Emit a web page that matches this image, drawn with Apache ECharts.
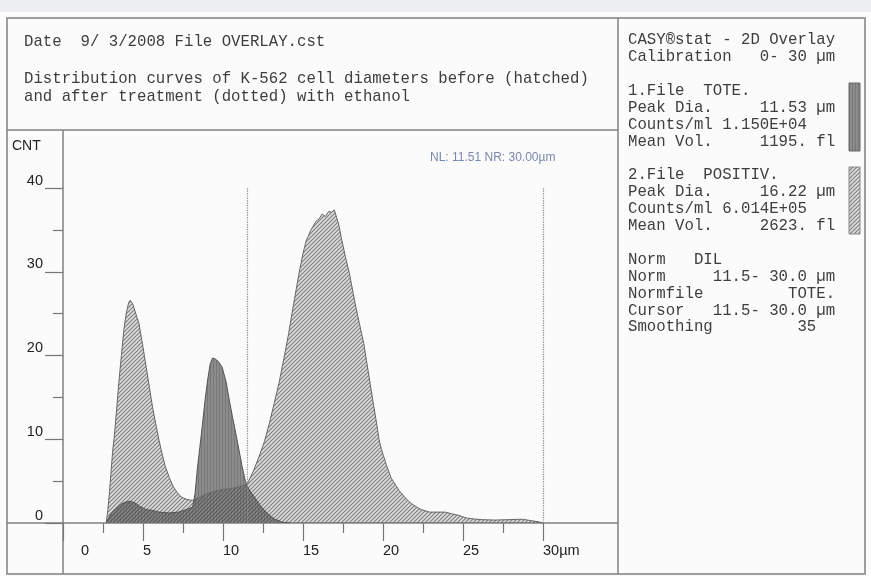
<!DOCTYPE html>
<html>
<head>
<meta charset="utf-8">
<script src="https://cdn.jsdelivr.net/npm/echarts@6/dist/echarts.min.js"></script>
<style>
html,body{margin:0;padding:0;background:#fbfbfb;}
#c{width:871px;height:576px;}
</style>
</head>
<body>
<div id="c"></div>
<script>
// ---- data (diameter in µm, counts) ----
const toteCurve = [
  [2.7,0],[2.85,0.6],[3.0,1.1],[3.3,1.7],[3.6,2.2],[3.9,2.5],[4.2,2.6],[4.5,2.4],[4.8,2.0],
  [5.2,1.6],[5.6,1.5],[6.0,1.3],[6.6,1.2],[7.2,1.3],[7.7,1.6],[8.1,1.9],[8.25,3.5],[8.4,6.5],
  [8.55,9.0],[8.7,11.5],[8.9,15.0],[9.05,17.2],[9.2,19.0],[9.35,19.7],[9.5,19.6],[9.7,19.3],
  [9.95,18.6],[10.2,16.8],[10.4,14.6],[10.6,12.6],[10.8,10.7],[11.0,8.7],[11.2,6.7],[11.35,5.4],
  [11.5,4.4],[11.7,3.8],[12.0,3.0],[12.4,1.9],[12.8,1.1],[13.2,0.5],[13.7,0.1],[14.2,0]
];
const positivCurve = [
  [2.7,0],[2.8,1.5],[2.9,3.6],[3.0,6.0],[3.1,8.5],[3.2,10.2],[3.35,13.5],[3.5,17.0],[3.65,20.0],
  [3.8,23.0],[3.95,25.0],[4.1,26.3],[4.2,26.6],[4.35,26.2],[4.5,25.3],[4.75,23.8],[5.0,21.0],
  [5.2,18.6],[5.4,16.2],[5.6,13.8],[5.8,11.8],[6.0,9.9],[6.2,8.2],[6.4,6.7],[6.65,5.4],[6.9,4.3],
  [7.15,3.6],[7.4,3.1],[7.75,2.8],[8.1,2.7],[8.5,3.0],[9.0,3.5],[9.5,3.8],[10.0,4.0],[10.5,4.1],
  [11.0,4.3],[11.5,4.6],[11.6,4.8],[11.9,6.2],[12.25,7.9],[12.6,9.8],[12.9,11.9],[13.2,14.3],
  [13.5,16.7],[13.8,19.6],[14.1,22.6],[14.4,26.0],[14.75,29.8],[15.0,32.2],[15.2,33.7],[15.5,35.0],
  [15.8,36.0],[16.0,36.3],[16.2,36.9],[16.4,36.6],[16.6,37.2],[16.8,37.1],[16.95,37.4],[17.1,36.5],
  [17.25,35.5],[17.4,34.0],[17.65,31.8],[17.9,29.8],[18.1,27.8],[18.3,25.8],[18.55,23.6],[18.8,21.4],
  [19.0,19.0],[19.2,16.6],[19.4,14.2],[19.6,11.9],[19.75,10.0],[19.9,8.8],[20.2,7.0],[20.5,5.4],
  [20.8,4.5],[21.0,3.9],[21.3,3.2],[21.6,2.6],[21.8,2.3],[22.1,1.9],[22.4,1.6],[22.9,1.3],[23.5,1.3],
  [23.9,1.3],[24.3,1.1],[24.75,0.9],[25.2,0.6],[25.6,0.5],[26.2,0.4],[27.0,0.35],[27.8,0.4],
  [28.7,0.45],[29.2,0.3],[29.7,0.15],[30.0,0]
];
const cursors = [11.51, 30];
const headerLines = [
  'Date  9/ 3/2008 File OVERLAY.cst',
  'Distribution curves of K-562 cell diameters before (hatched)',
  'and after treatment (dotted) with ethanol'
];
const infoLines = [
  'CASY\u00AEstat - 2D Overlay',
  'Calibration   0- 30 \u00B5m',
  '',
  '1.File  TOTE.',
  'Peak Dia.     11.53 \u00B5m',
  'Counts/ml 1.150E+04',
  'Mean Vol.     1195. fl',
  '',
  '2.File  POSITIV.',
  'Peak Dia.     16.22 \u00B5m',
  'Counts/ml 6.014E+05',
  'Mean Vol.     2623. fl',
  '',
  'Norm   DIL',
  'Norm     11.5- 30.0 \u00B5m',
  'Normfile         TOTE.',
  'Cursor   11.5- 30.0 \u00B5m',
  'Smoothing         35'
];
const cursorLabel = 'NL: 11.51 NR: 30.00\u00B5m';

// ---- fill patterns ----
function hatchPattern() {
  const c = document.createElement('canvas');
  c.width = 4; c.height = 4;
  const g = c.getContext('2d');
  g.fillStyle = 'rgba(110,110,110,0.2)';
  g.fillRect(0, 0, 4, 4);
  g.strokeStyle = 'rgba(70,70,70,0.62)';
  g.lineWidth = 1.2;
  g.beginPath();
  g.moveTo(-1, 5); g.lineTo(5, -1);
  g.moveTo(-1, 1); g.lineTo(1, -1);
  g.moveTo(3, 5); g.lineTo(5, 3);
  g.stroke();
  return c;
}
function darkPattern() {
  const c = document.createElement('canvas');
  c.width = 3; c.height = 3;
  const g = c.getContext('2d');
  g.fillStyle = '#8c8c8c';
  g.fillRect(0, 0, 3, 3);
  g.fillStyle = '#787878';
  g.fillRect(0, 0, 1, 3);
  return c;
}
const hatch = hatchPattern();
const dark = darkPattern();

const mono = '15.7px "Liberation Mono", "Courier New", monospace';
const sans = '"Liberation Sans", Arial, sans-serif';
const frameColor = '#808080';

const graphics = [
  { type: 'rect', shape: { x: 0, y: 0, width: 871, height: 12 }, style: { fill: '#eceef1' }, silent: true },
  { type: 'rect', shape: { x: 7, y: 18, width: 858, height: 556 }, style: { fill: 'none', stroke: frameColor, lineWidth: 1.5 }, silent: true },
  { type: 'line', shape: { x1: 7, y1: 130, x2: 618, y2: 130 }, style: { stroke: frameColor, lineWidth: 1.5 }, silent: true },
  { type: 'line', shape: { x1: 618, y1: 18, x2: 618, y2: 574 }, style: { stroke: frameColor, lineWidth: 1.5 }, silent: true },
  { type: 'line', shape: { x1: 63, y1: 130, x2: 63, y2: 574 }, style: { stroke: frameColor, lineWidth: 1.5 }, silent: true },
  { type: 'line', shape: { x1: 7, y1: 523, x2: 618, y2: 523 }, style: { stroke: frameColor, lineWidth: 1.5 }, silent: true },
  { type: 'text', x: 12, y: 146, style: { text: 'CNT', font: '14px ' + sans, fill: '#222', verticalAlign: 'middle' }, silent: true },
  { type: 'text', x: 430, y: 158, style: { text: cursorLabel, font: '12px ' + sans, fill: '#7a86ad', verticalAlign: 'middle' }, silent: true },
  { type: 'rect', shape: { x: 849, y: 83, width: 11, height: 68 }, style: { fill: { image: dark, repeat: 'repeat' }, stroke: '#666', lineWidth: 1 }, silent: true },
  { type: 'rect', shape: { x: 849, y: 167, width: 11, height: 67 }, style: { fill: { image: hatch, repeat: 'repeat' }, stroke: '#888', lineWidth: 1 }, silent: true }
];
const headerY = [42, 79, 97];
headerLines.forEach((t, i) => graphics.push({
  type: 'text', x: 24, y: headerY[i],
  style: { text: t, font: mono, fill: '#3e3e3e', verticalAlign: 'middle' }, silent: true
}));
infoLines.forEach((t, i) => {
  if (!t) return;
  graphics.push({
    type: 'text', x: 628, y: 40 + i * 16.9,
    style: { text: t, font: mono, fill: '#3e3e3e', verticalAlign: 'middle' }, silent: true
  });
});

const chart = echarts.init(document.getElementById('c'), null, { renderer: 'canvas' });
chart.setOption({
  animation: false,
  backgroundColor: '#fbfbfb',
  grid: { left: 63, right: 328, top: 188, bottom: 53, containLabel: false },
  xAxis: {
    type: 'value', min: 0, max: 30, interval: 5,
    axisLine: { show: false },
    splitLine: { show: false },
    axisTick: { show: true, length: 18, lineStyle: { color: '#777', width: 1.2 } },
    minorTick: { show: true, splitNumber: 2, length: 10, lineStyle: { color: '#777', width: 1.2 } },
    axisLabel: {
      margin: 20, align: 'left', fontSize: 14.5, fontFamily: sans, color: '#222',
      formatter: v => v === 0 ? '{z|0}' : (v === 30 ? '30\u00B5m' : String(v)),
      rich: { z: { fontSize: 14.5, fontFamily: sans, color: '#222', padding: [0, 0, 0, 18] } }
    }
  },
  yAxis: {
    type: 'value', min: 0, max: 40, interval: 10,
    axisLine: { show: false },
    splitLine: { show: false },
    axisTick: { show: true, length: 18, lineStyle: { color: '#777', width: 1.2 } },
    minorTick: { show: true, splitNumber: 2, length: 10, lineStyle: { color: '#777', width: 1.2 } },
    axisLabel: { margin: 20, fontSize: 14.5, fontFamily: sans, color: '#222', verticalAlign: 'bottom' }
  },
  series: [
    {
      name: 'TOTE.', type: 'line', data: toteCurve, showSymbol: false, smooth: false,
      lineStyle: { color: '#555', width: 1 },
      areaStyle: { color: { image: dark, repeat: 'repeat' }, opacity: 1 },
      z: 2
    },
    {
      name: 'POSITIV.', type: 'line', data: positivCurve, showSymbol: false, smooth: false,
      lineStyle: { color: '#666', width: 1 },
      areaStyle: { color: { image: hatch, repeat: 'repeat' }, opacity: 1 },
      z: 3,
      markLine: {
        silent: true, symbol: 'none', label: { show: false },
        lineStyle: { color: '#8a8a8a', type: 'dotted', width: 1.2 },
        data: cursors.map(c => [{ coord: [c, 0] }, { coord: [c, 40] }])
      }
    }
  ],
  graphic: graphics
});
</script>
</body>
</html>
